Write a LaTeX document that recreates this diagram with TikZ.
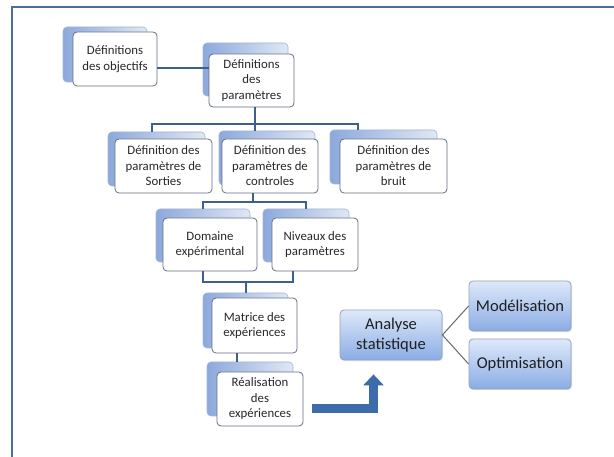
\documentclass[tikz,border=0pt]{standalone}
\usepackage{fontspec}
\setmainfont{Carlito}
\usetikzlibrary{arrows.meta,shadows,calc}
\definecolor{framec}{RGB}{75,110,155}
\definecolor{frontc}{RGB}{100,112,130}
\definecolor{backl}{RGB}{140,168,220}
\definecolor{backr}{RGB}{224,232,244}
\definecolor{backd}{RGB}{165,182,210}
\definecolor{connc}{RGB}{62,96,142}
\definecolor{txtc}{RGB}{40,40,45}
\definecolor{antop}{RGB}{222,233,250}
\definecolor{anbot}{RGB}{138,172,228}
\definecolor{andraw}{RGB}{150,163,186}
\definecolor{glinec}{RGB}{100,106,112}
\definecolor{arrowc}{RGB}{62,108,170}
\tikzset{
  frontbox/.style={draw=frontc, fill=white, rounded corners=4pt, align=center,
    inner sep=0pt, line width=0.8pt, text=txtc,
    font=\fontsize{12.8}{15.5}\selectfont},
  backbox/.style={draw=backd, left color=backl, right color=backr,
    rounded corners=4pt, inner sep=0pt, line width=0.6pt},
  anbox/.style={draw=andraw, top color=antop, bottom color=anbot,
    rounded corners=4pt, inner sep=0pt, line width=0.8pt, align=center,
    minimum width=102pt, minimum height=50pt, text=black!88,
    font=\fontsize{16.5}{19.5}\selectfont,
    drop shadow={opacity=0.25, shadow xshift=1pt, shadow yshift=-1.2pt}},
  conn/.style={draw=connc, line width=2pt},
  gline/.style={draw=glinec, line width=1pt},
  bigarrow/.style={draw=arrowc, line width=9pt, line join=miter,
    -{Triangle[width=20pt,length=11pt]}},
  framestyle/.style={draw=framec, line width=1.5pt}
}
\begin{document}
\begin{tikzpicture}[x=1pt,y=-1pt]
\useasboundingbox[fill=white] (0,0) rectangle (614,457);
\draw[framestyle] (12,457) |- (614,7);

% back boxes
\node[backbox, minimum width=84pt, minimum height=55pt] (objB) at (105,54.5) {};
\node[backbox, minimum width=85pt, minimum height=53pt] (parB) at (245.5,69.5) {};
\node[backbox, minimum width=97pt, minimum height=54pt] (sortB) at (156.5,159) {};
\node[backbox, minimum width=96pt, minimum height=54pt] (ctrlB) at (267,158) {};
\node[backbox, minimum width=107pt, minimum height=54pt] (bruitB) at (383.5,157) {};
\node[backbox, minimum width=94pt, minimum height=53pt] (domB) at (203,235.5) {};
\node[backbox, minimum width=86pt, minimum height=53pt] (nivB) at (306,235.5) {};
\node[backbox, minimum width=85pt, minimum height=55pt] (matB) at (245.5,320.5) {};
\node[backbox, minimum width=86pt, minimum height=54pt] (realB) at (250,389) {};

% front boxes
\node[frontbox, minimum width=84pt, minimum height=54pt] (objF) at (115,59) {Définitions\\des objectifs};
\node[frontbox, minimum width=85pt, minimum height=53pt] (parF) at (251.5,80.5) {Définitions\\des\\paramètres};
\node[frontbox, minimum width=97pt, minimum height=54pt] (sortF) at (163.5,166) {Définition des\\paramètres de\\Sorties};
\node[frontbox, minimum width=96pt, minimum height=54pt] (ctrlF) at (270,166) {Définition des\\paramètres de\\controles};
\node[frontbox, minimum width=107pt, minimum height=54pt] (bruitF) at (393.5,166) {Définition des\\paramètres de\\bruit};
\node[frontbox, minimum width=94pt, minimum height=53pt] (domF) at (210,244.5) {Domaine\\expérimental};
\node[frontbox, minimum width=86pt, minimum height=53pt] (nivF) at (315,244.5) {Niveaux des\\paramètres};
\node[frontbox, minimum width=85pt, minimum height=55pt] (matF) at (254.5,325.5) {Matrice des\\expériences};
\node[frontbox, minimum width=86pt, minimum height=54pt] (realF) at (260,399) {Réalisation\\des\\expériences};

% right part
\node[anbox] (analyse) at (391,335) {Analyse\\statistique};
\node[anbox] (model) at (520,306) {Modélisation};
\node[anbox] (optim) at (520,364) {Optimisation};

% connectors
\draw[conn] ([yshift=-9pt]objF.east) -- ([yshift=-9pt]objF.east -| parF.west);
\coordinate (j1) at ([xshift=3.5pt,yshift=-17pt]parF.south);
\draw[conn] ([xshift=-4.5pt]sortB.north) |- (j1) -| ([xshift=-25.5pt]bruitB.north);
\draw[conn] ([xshift=3.5pt]parF.south) -- (j1) -- (j1 |- ctrlB.north);
\coordinate (j2) at ([xshift=-17pt,yshift=-9pt]ctrlF.south);
\draw[conn] (ctrlF.south -| j2) -- (j2);
\draw[conn] (domB.north) |- (j2) -| (nivB.north);
\draw[conn] (domB.center |- domF.south) -- ++(0,11) -| ([xshift=-22pt]nivF.south);
\draw[conn] (matB.north) -- ++(0,-11);
\draw[conn] ([xshift=-17.5pt]matF.south) -- ([xshift=-17.5pt]matF.south |- realB.north);

\draw[gline] (analyse.east) -- (model.west);
\draw[gline] (analyse.east) -- (optim.west);

\draw[bigarrow] ([xshift=9pt,yshift=-9.5pt]realF.east) -| ([xshift=-17.5pt,yshift=-14pt]analyse.south);
\end{tikzpicture}
\end{document}
